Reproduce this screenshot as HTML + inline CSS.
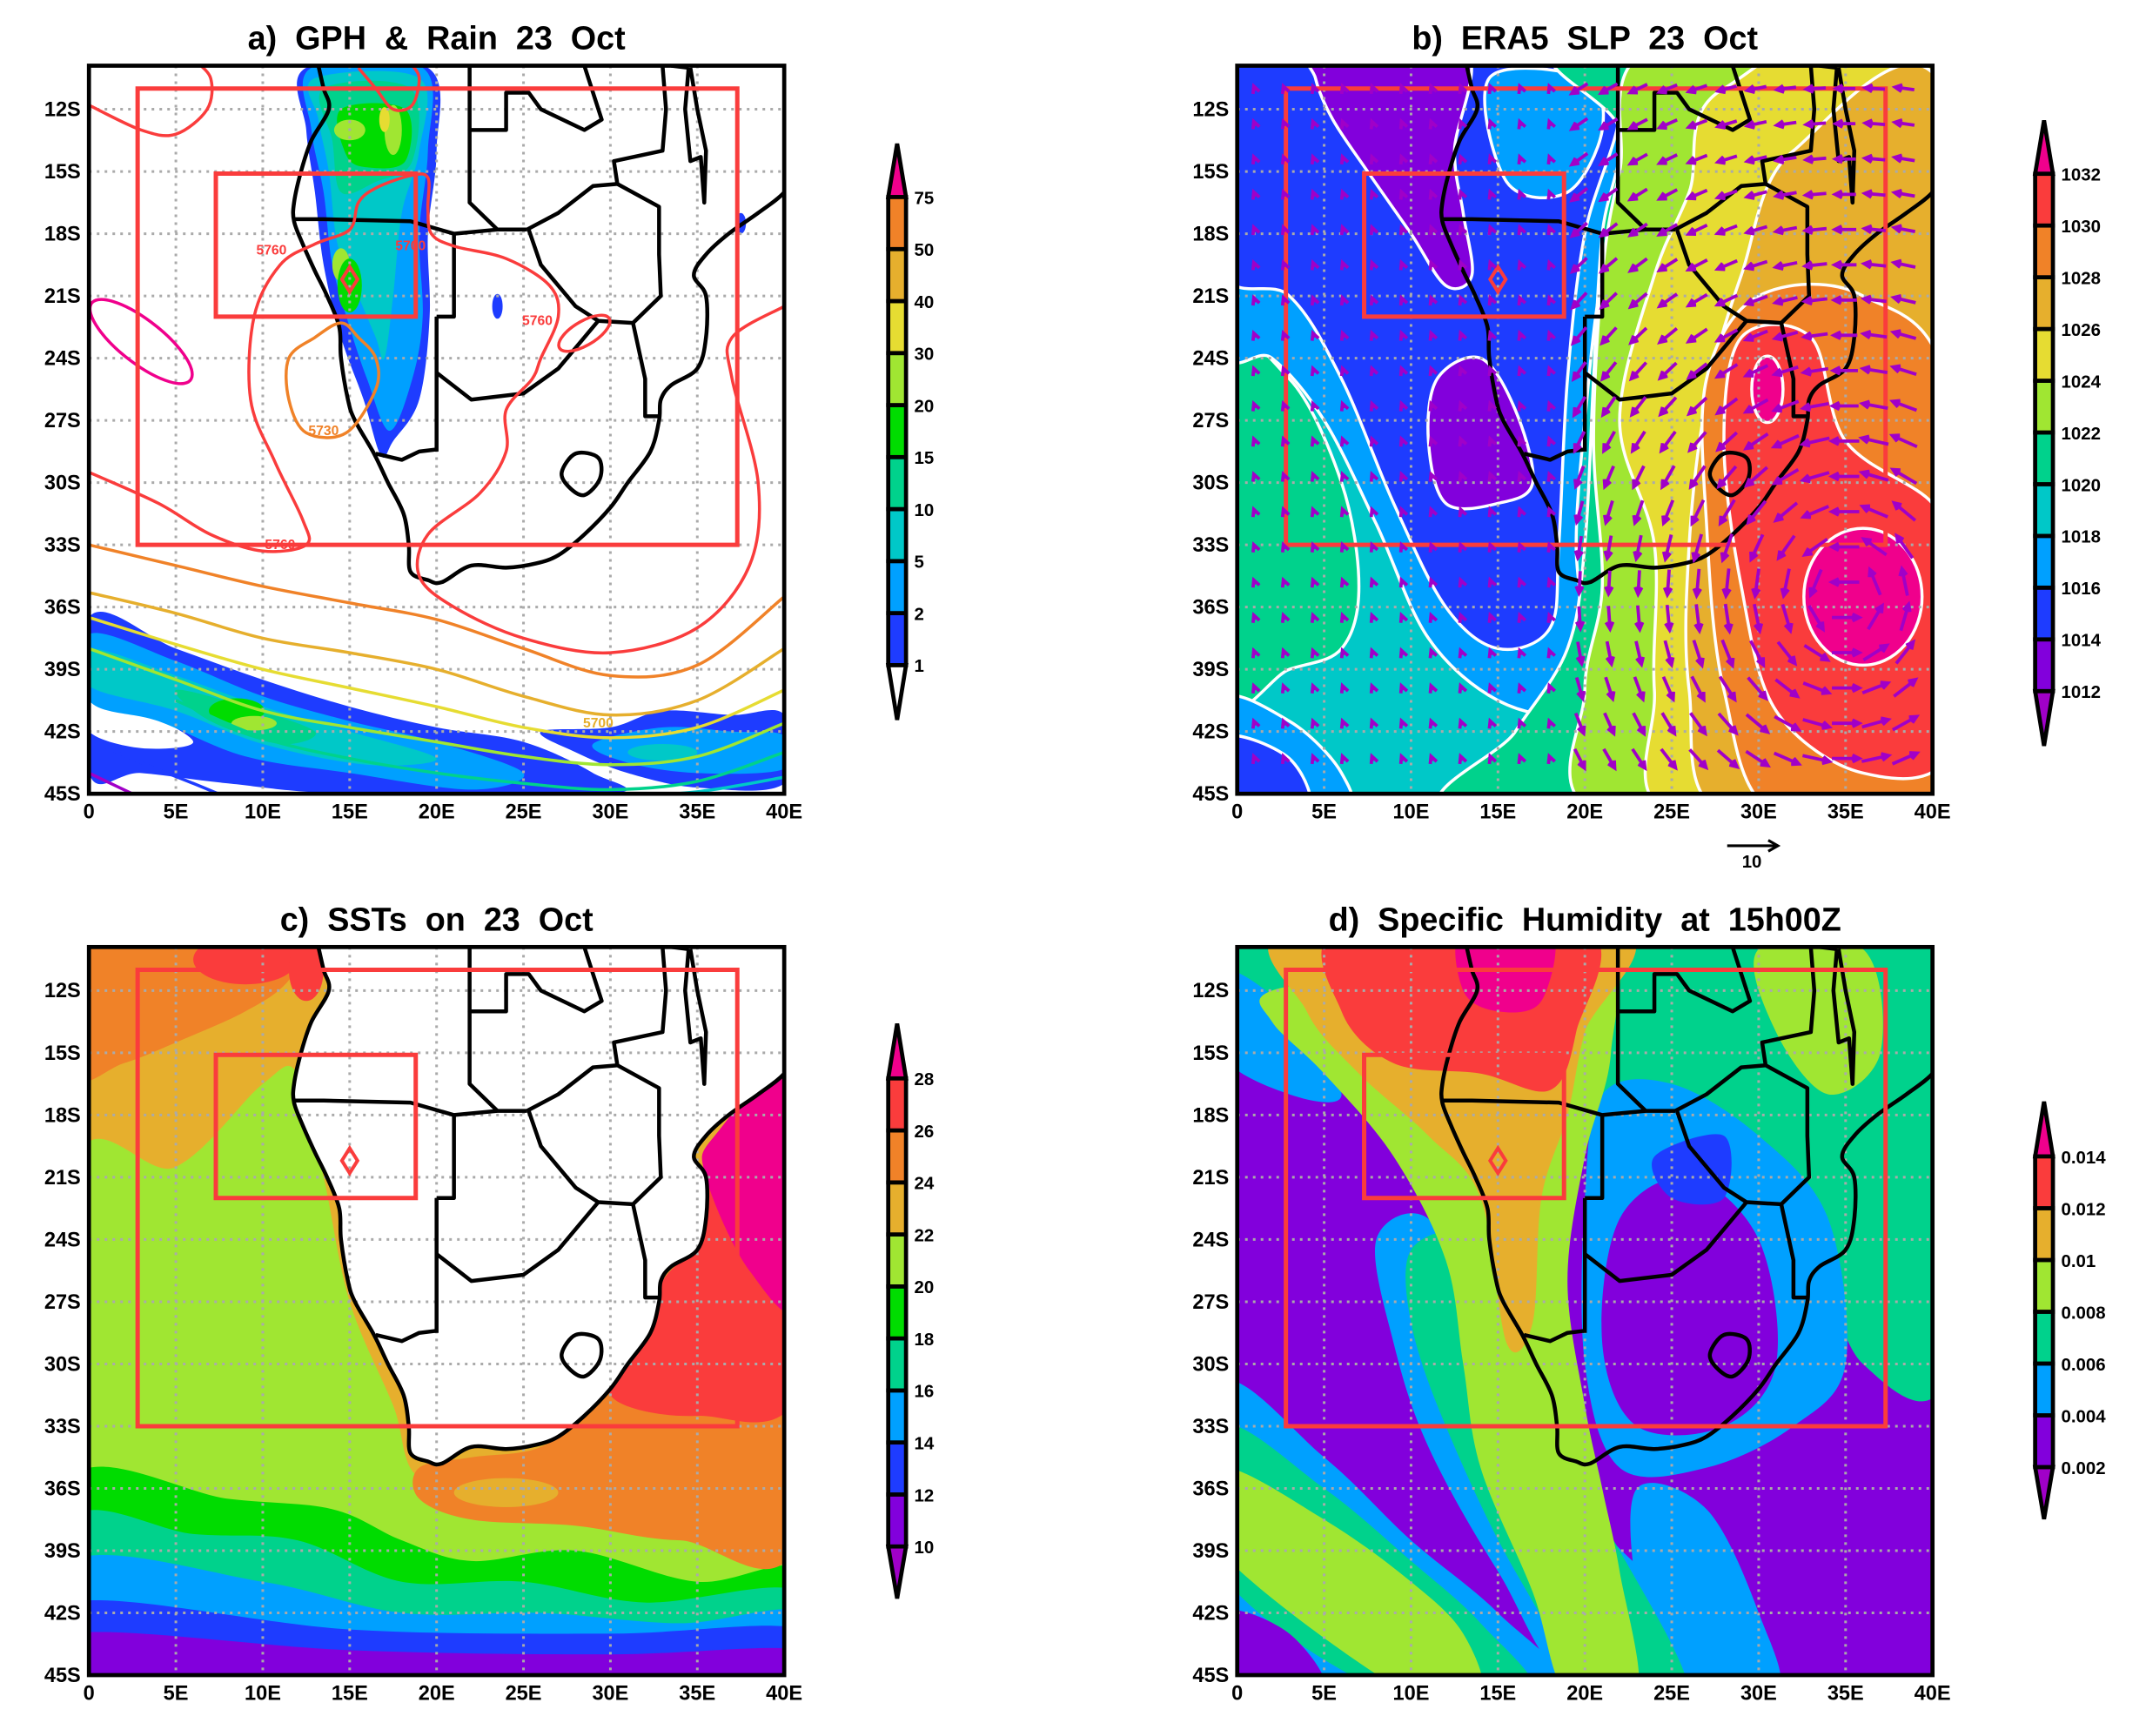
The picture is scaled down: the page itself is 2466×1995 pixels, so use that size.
<!DOCTYPE html>
<html><head><meta charset="utf-8">
<style>
html,body{margin:0;padding:0;background:#fff;}
svg{display:block;}
text{font-family:"Liberation Sans",sans-serif;font-weight:bold;}
</style></head>
<body>
<svg id="s" width="2466" height="1995" viewBox="0 0 1568 1268.5" preserveAspectRatio="none" xmlns="http://www.w3.org/2000/svg">
<rect width="1568" height="1268.5" fill="#fff"/>
</svg>
<script>
(function(){
var S=document.getElementById('s');
var KX=12.7, KY=15.157, T=9.9;
var P={a:[65,48],b:[904,48],c:[65,692],d:[904,692]};
var out=[];
function sp(p,closed){
  var n=p.length,d="M"+p[0][0]+","+p[0][1];
  for(var i=0;i<(closed?n:n-1);i++){
    var p0=p[(i-1+n)%n],p1=p[i],p2=p[(i+1)%n],p3=p[(i+2)%n];
    if(!closed){ if(i==0)p0=p1; if(i+2>=n)p3=p2; }
    var c1=[p1[0]+(p2[0]-p0[0])/6,p1[1]+(p2[1]-p0[1])/6];
    var c2=[p2[0]-(p3[0]-p1[0])/6,p2[1]-(p3[1]-p1[1])/6];
    d+="C"+c1[0].toFixed(3)+","+c1[1].toFixed(3)+" "+c2[0].toFixed(3)+","+c2[1].toFixed(3)+" "+p2[0]+","+p2[1];
  }
  return d+(closed?"Z":"");
}
function fill(p,c,st){return '<path d="'+sp(p,true)+'" fill="'+c+'"'+(st?' stroke="'+st+'" stroke-width="3.5" vector-effect="non-scaling-stroke"':'')+'/>';}
function line(p,c,w){return '<path d="'+sp(p,false)+'" fill="none" stroke="'+c+'" stroke-width="'+(w||3.5)+'" vector-effect="non-scaling-stroke"/>';}
function pl(p,c,w){return '<polyline points="'+p.map(function(q){return q.join(',')}).join(' ')+'" fill="none" stroke="'+c+'" stroke-width="'+(w||4.5)+'" stroke-linejoin="round" vector-effect="non-scaling-stroke"/>';}
function ell(cx,cy,rx,ry,c,st){return '<ellipse cx="'+cx+'" cy="'+cy+'" rx="'+rx+'" ry="'+ry+'" fill="'+c+'"'+(st?' stroke="'+st+'" stroke-width="3.5" vector-effect="non-scaling-stroke"':'')+'/>';}
function grp(k,inner){var o=P[k];return '<g clip-path="url(#cl)" transform="translate('+o[0]+','+o[1]+') scale('+KX+','+KY+') translate(0,'+(-T)+')">'+inner+'</g>';}
function pt(k,lon,lat){var o=P[k];return [o[0]+lon*KX,o[1]+(lat-T)*KY];}

var coast=[[13.2,9.9],[13.5,11],[13.8,12],[12.8,13.5],[12.2,15],[11.8,16.5],[11.8,17.4],[12.3,18.5],[13,19.8],[13.7,21],[14.4,22.5],[14.5,24],[14.9,26],[15.3,27],[16.4,28.6],[17.2,30],[18.1,31.5],[18.4,33],[18.5,34.3],[19.5,34.7],[20.3,34.8],[22,34],[24,34.1],[25.7,33.9],[27,33.5],[28.5,32.5],[30,31.2],[31,30],[32.3,28.5],[32.8,27],[32.9,26],[33.5,25.3],[35,24.5],[35.5,23],[35.5,21],[34.8,20],[35.5,19],[36.8,18],[38.5,17],[40,16],[40.5,15],[40.6,12],[40.2,10.5],[40.5,9.9]];
var landPoly='<polygon points="'+coast.map(function(q){return q.join(',')}).join(' ')+' 40.5,9.5 13,9.5" fill="#fff"/>';
var borders=[
 [[11.8,17.3],[13.5,17.3],[18.5,17.4],[21,18],[23.5,17.8],[25.2,17.8]],
 [[21,18],[21,22],[20,22]],
 [[20,22],[20,28.5]],
 [[16.5,28.6],[18,28.9],[19,28.5],[20,28.4]],
 [[21.9,9.9],[21.9,13],[24,13],[24,11.2],[25.3,11.2],[26,12],[28.5,13],[29.5,12.5],[28.5,9.9]],
 [[21.9,13],[21.9,16.5],[23.5,17.8]],
 [[25.2,17.8],[27,17],[29,15.7],[30.4,15.6],[30.2,14.5],[33,14],[33.2,12],[33,9.9]],
 [[30.4,15.6],[32.8,16.7],[32.8,19],[32.9,21],[31.3,22.3],[32,25],[32,26.8],[32.9,26.8]],
 [[25.3,17.8],[26,19.5],[28,21.5],[29.3,22.2],[31.3,22.3]],
 [[20,24.7],[22,26],[25,25.7],[27,24.5],[29.3,22.2]],
 [[34.5,10],[34.3,12],[34.6,14.5],[35.2,14.3],[35.4,16.5],[35.5,14],[35,12],[34.6,10]],
 [[34.5,10],[33.5,9.9]]
];
var lesotho=[[27.2,29.5],[28,28.6],[29.3,28.8],[29.4,29.8],[28.5,30.6],[27.6,30.2]];
function landLines(){
  var s=line(coast,'#000',4.5);
  borders.forEach(function(b){s+=pl(b,'#000',4.5);});
  s+='<path d="'+sp(lesotho,true)+'" fill="none" stroke="#000" stroke-width="4.5" vector-effect="non-scaling-stroke"/>';
  return s;
}
function grid(){
  var s='';
  for(var lon=5;lon<40;lon+=5) s+='<line x1="'+lon+'" y1="9.9" x2="'+lon+'" y2="45" stroke="#aaa" stroke-width="3" stroke-dasharray="3,6" vector-effect="non-scaling-stroke"/>';
  for(var lat=12;lat<45;lat+=3) s+='<line x1="0" y1="'+lat+'" x2="40" y2="'+lat+'" stroke="#aaa" stroke-width="3" stroke-dasharray="3,6" vector-effect="non-scaling-stroke"/>';
  return s;
}
function boxes(){
  var s='<rect x="2.8" y="11" width="34.5" height="22" fill="none" stroke="#fa3c3c" stroke-width="5" vector-effect="non-scaling-stroke"/>';
  s+='<rect x="7.3" y="15.1" width="11.5" height="6.9" fill="none" stroke="#fa3c3c" stroke-width="5" vector-effect="non-scaling-stroke"/>';
  s+='<polygon points="15,19.6 15.45,20.2 15,20.8 14.55,20.2" fill="none" stroke="#fa3c3c" stroke-width="4" vector-effect="non-scaling-stroke"/>';
  return s;
}
function frameLabels(k){
  var o=P[k],s='<rect x="'+o[0]+'" y="'+o[1]+'" width="508" height="532" fill="none" stroke="#000" stroke-width="3"/>';
  var xl=['0','5E','10E','15E','20E','25E','30E','35E','40E'];
  for(var i=0;i<9;i++) s+='<text x="'+(o[0]+i*5*KX)+'" y="'+(o[1]+550)+'" font-size="15" text-anchor="middle">'+xl[i]+'</text>';
  for(var lat=12;lat<=45;lat+=3){var y=o[1]+(lat-T)*KY;s+='<text x="'+(o[0]-6)+'" y="'+(y+5)+'" font-size="15" text-anchor="end">'+lat+'S</text>';}
  return s;
}
function cbar(x,tip,top,bot,btip,cols,labs,tcol,bcol){
  var n=cols.length,h=(bot-top)/n,s='';
  s+='<polygon points="'+(x+6.5)+','+tip+' '+(x+13)+','+top+' '+x+','+top+'" fill="'+tcol+'" stroke="#000" stroke-width="3"/>';
  s+='<polygon points="'+(x+6.5)+','+btip+' '+(x+13)+','+bot+' '+x+','+bot+'" fill="'+bcol+'" stroke="#000" stroke-width="3"/>';
  for(var i=0;i<n;i++){s+='<rect x="'+x+'" y="'+(bot-(i+1)*h)+'" width="13" height="'+h+'" fill="'+cols[i]+'" stroke="#000" stroke-width="3"/>';}
  for(var j=0;j<labs.length;j++){s+='<text x="'+(x+19)+'" y="'+(bot-j*h+5)+'" font-size="13">'+labs[j]+'</text>';}
  return s;
}

out.push('<defs><clipPath id="cl" clipPathUnits="userSpaceOnUse"><rect x="0" y="9.9" width="40" height="35.1"/></clipPath><clipPath id="clb"><rect x="904" y="48" width="508" height="532"/></clipPath></defs>');

/* ---------- Panel a ---------- */
var a='';
a+=fill([[12.5,10],[19.5,10],[20,14],[19.5,18],[19.6,22],[19,26],[17.5,28],[16.8,28.7],[15.8,26],[14.5,23],[13.5,19.5],[13,16],[12.5,13]],'#1e3cff');
a+=fill([[12.8,10],[19.2,10],[19.5,14],[19,18],[19.2,22],[18.6,25],[17.3,27.5],[16,25],[15,22.5],[14,19.5],[13.5,16],[12.8,13]],'#00a0ff');
a+=fill([[13,10.5],[19,10.5],[19,14],[18,17],[17.5,21],[17,24],[16.5,23],[15.5,21],[14.3,18.5],[13.8,15],[13.2,12.5]],'#00c8c8');
a+=fill([[13.5,11],[18.5,11],[18.6,14.5],[16.5,15.5],[14.5,16],[14,13.5]],'#00d28c');
a+=fill([[14.5,12],[18.2,12],[18.2,14.5],[16,14.8],[14.8,14.2]],'#00dc00');
a+=ell(17.5,13,0.5,1.2,'#a0e632')+ell(15,13,0.9,0.5,'#a0e632')+ell(14.5,19.5,0.5,0.8,'#a0e632')+ell(17,12.5,0.3,0.6,'#e6dc32');
a+=ell(15,20.5,0.7,1.3,'#00dc00');
a+=fill([[0,36.5],[5,38],[10,39.5],[15,40.8],[20,41.8],[25,42.5],[29,44],[30,45],[15,45],[8,44.5],[3,44],[0,44]],'#1e3cff');
a+=fill([[0,40.3],[3,41],[6,42.5],[3,42.8],[0,42]],'#fff');
a+=fill([[0,37.3],[5,38.6],[10,40.3],[15,41.5],[20,42.5],[25,44],[22,44.8],[15,44],[9,43.2],[4,41.5],[0,40.5]],'#00a0ff');
a+=fill([[0,38],[5,39.3],[10,40.8],[15,42],[20,43.3],[16,43.6],[10,42.6],[5,41],[0,39.8]],'#00c8c8');
a+=fill([[5,40],[9,40.8],[13,42],[11,42.6],[7,41.5]],'#00d28c');
a+=ell(8.5,41,1.6,0.6,'#00dc00')+ell(9.5,41.6,1.3,0.35,'#a0e632');
a+=fill([[26,42],[30,41.8],[33,41],[37,41.2],[40,41.2],[40,44.5],[35,44.7],[31,44],[28,43]],'#1e3cff');
a+=fill([[29,42.6],[33,41.8],[37,42],[40,42.2],[40,43.8],[35,44],[31,43.5]],'#00a0ff');
a+=ell(33,43,2,0.4,'#00c8c8');
a+=ell(23.5,21.5,0.3,0.6,'#1e3cff')+ell(37.5,17.5,0.3,0.5,'#1e3cff');
a+=grid();
a+=landLines();
a+=line([[0,11.8],[3,13],[5,13.2],[6.8,12],[7,10.5],[6,9.6]],'#fa3c3c');
a+=line([[0,29.5],[4,31],[7,32.5],[10,33.3],[12.5,33],[12.3,31.8],[10.7,29],[9.3,26],[9.5,22],[11,19.5],[13,18.5],[15,17.8],[15.5,16.5],[16.5,15.8],[18.5,15.2],[19.5,15.3],[19.5,16.8],[19.7,18],[21,18.6],[24,19.2],[26.5,20.5],[27,22],[26,24],[25.5,25],[24,26.5],[24,28.5],[22.5,30.5],[19.5,32.5],[19,34.5],[21,36],[25,37.5],[30,38.2],[35,37],[38,34],[38.5,30],[37,25],[37,23],[40,21.5]],'#fa3c3c');
a+=line([[15.5,10],[16.5,11],[17.5,12],[18.6,11.8],[19,10.5],[18.5,9.8]],'#fa3c3c');
a+=fill([[14.5,22.3],[13,23],[11.5,24],[11.5,26],[12.5,27.6],[14.8,27.6],[16.5,25.5],[16.5,24],[15.5,23]],'none','#f08228');
a+='<ellipse cx="3" cy="23.2" rx="3.4" ry="1.1" transform="rotate(32 3 23.2)" fill="none" stroke="#f0008c" stroke-width="3.5" vector-effect="non-scaling-stroke"/>';
a+='<ellipse cx="28.5" cy="22.8" rx="1.6" ry="0.6" transform="rotate(-25 28.5 22.8)" fill="none" stroke="#fa3c3c" stroke-width="3.5" vector-effect="non-scaling-stroke"/>';
a+=line([[0,33],[5,34],[10,35],[15,35.8],[20,36.6],[25,38],[30,39.3],[35,38.8],[40,35.5]],'#f08228');
a+=line([[0,35.3],[5,36.3],[10,37.5],[15,38.2],[20,39],[25,40.3],[30,41.2],[35,40.5],[40,38]],'#e6af2d');
a+=line([[0,36.5],[5,37.8],[10,39],[15,39.9],[20,40.8],[25,41.8],[30,42.3],[35,41.8],[40,40]],'#e6dc32');
a+=line([[0,38],[5,39.5],[10,41],[15,41.8],[20,42.5],[25,43.2],[30,43.6],[35,43.2],[40,41.6]],'#a0e632');
a+=line([[5,40.5],[10,42.3],[15,43.3],[20,44],[25,44.5],[30,44.8],[35,44.4],[40,43]],'#00d28c');
a+=line([[20,45.2],[30,45.1],[35,44.9],[40,44.2]],'#00c8c8');
a+=line([[0,42.4],[3,43.5],[6,44.5],[8,45.2]],'#1e3cff');
a+=line([[0,44],[3,45.2]],'#a000c8');
a+=boxes();
out.push(grp('a',a));
function clab(k,lon,lat,t,c){var q=pt(k,lon,lat);return '<text x="'+q[0]+'" y="'+q[1]+'" font-size="10" fill="'+c+'" text-anchor="middle">'+t+'</text>';}
out.push(clab('a',10.5,19,'5760','#fa3c3c')+clab('a',18.5,18.8,'5700','#fa3c3c')+clab('a',25.8,22.4,'5760','#fa3c3c')+clab('a',13.5,27.7,'5730','#f08228')+clab('a',11,33.2,'5760','#fa3c3c')+clab('a',29.3,41.8,'5700','#e6af2d'));
out.push(frameLabels('a'));
out.push('<text x="319" y="36" font-size="24" text-anchor="middle" xml:space="preserve">a)  GPH  &amp;  Rain  23  Oct</text>');
out.push(cbar(649,105,144,486,526,['#1e3cff','#00a0ff','#00c8c8','#00d28c','#00dc00','#a0e632','#e6dc32','#e6af2d','#f08228'],['1','2','5','10','15','20','30','40','50','75'],'#f0008c','#fff'));

/* ---------- Panel b ---------- */
var W='#fff';
var b='<rect x="0" y="9.9" width="40" height="35.1" fill="#00c8c8"/>';
b+=fill([[-1,24],[3,25],[6,30],[7,35],[6,38],[3,39],[-1,40]],'#00d28c',W);
b+=fill([[-1,40.5],[3,41.5],[6,44],[6,46],[-1,46]],'#00a0ff',W);
b+=fill([[-1,42.3],[3,43.3],[4,46],[-1,46]],'#1e3cff',W);
b+=fill([[-1,9],[20,9],[23,14],[21,20],[20,27],[19.5,33],[20,38],[19,41],[15,40.5],[11,37.5],[8,32],[5,27],[2,24],[-1,23]],'#00a0ff',W);
b+=fill([[-1,9],[20,9],[22,12],[20,18],[19,25],[18.5,33],[18,37],[15,38],[12,36],[9,31],[6,25],[3,21],[-1,19.5]],'#1e3cff',W);
b+='<rect x="-1" y="9" width="5" height="10" fill="#1e3cff"/>';
b+=fill([[4.5,9],[13,9],[12.5,14],[13,17],[13.5,20],[12,20.5],[10,18],[7.5,15],[5.5,12.5],[4.5,10.5]],'#8200dc',W);
b+=fill([[11.5,25],[14,24],[16,26.5],[17,30],[15,31],[12,31],[11,28]],'#8200dc',W);
b+=fill([[14.5,10.5],[20,10.5],[21,13],[19,16],[15.5,15.5]],'#00a0ff',W);
b+=fill([[19,9],[41,9],[41,46],[13,46],[16,42],[19,38],[20,33],[20.5,25],[21,18],[22,13]],'#00d28c',W);
b+=fill([[24,9],[41,9],[41,46],[21,46],[20,40],[21,35],[20.5,28],[21,20],[22,15]],'#a0e632',W);
b+=fill([[28,11],[41,9],[41,46],[25,46],[24,40],[24,33],[22,27],[24,20],[26,16]],'#e6dc32',W);
b+=fill([[32,14],[41,12],[41,46],[28,46],[26,40],[26,33],[27,26],[29,20]],'#e6af2d',W);
b+=fill([[30,21],[36,21],[41,26],[41,46],[31,46],[28,40],[27,32],[27,25]],'#f08228',W);
b+=fill([[29,23],[33,23],[35,28],[40,31],[41,34],[41,43],[36,44],[31,41],[29,35],[28,28]],'#fa3c3c',W);
b+=ell(36,35.5,3.4,3.3,'#f0008c',W)+ell(30.5,25.5,0.9,1.6,'#f0008c',W);
b+=grid();
b+=landLines();
b+=boxes();
out.push(grp('b',b));
var ar='';
for(var la=11;la<=44.5;la+=1.7){for(var lo=1;lo<=39.5;lo+=1.7){
  var dx=lo-35,dy=-(la-35.5),r=Math.sqrt(dx*dx+dy*dy)+0.01;
  var u=-dy/r,v=dx/r,m;
  if(lo<19){m=0.35;u=-0.3;v=0.8;}
  else {m=Math.min(1,0.5+6/(r+4));}
  var L=Math.sqrt(u*u+v*v);u/=L;v/=L;
  var len=(lo<19?10:20)*m;
  var p0=pt('b',lo,la),x1=p0[0]-u*len/2,y1=p0[1]+v*len/2,x2=p0[0]+u*len/2,y2=p0[1]-v*len/2;
  var hx=-u*5,hy=v*5;
  ar+='<line x1="'+x1.toFixed(1)+'" y1="'+y1.toFixed(1)+'" x2="'+x2.toFixed(1)+'" y2="'+y2.toFixed(1)+'"/>';
  ar+='<polyline fill="none" points="'+(x2+hx-hy*0.5).toFixed(1)+','+(y2+hy+hx*0.5).toFixed(1)+' '+x2.toFixed(1)+','+y2.toFixed(1)+' '+(x2+hx+hy*0.5).toFixed(1)+','+(y2+hy-hx*0.5).toFixed(1)+'"/>';
}}
out.push('<g stroke="#a000c8" stroke-width="2.4" clip-path="url(#clb)">'+ar+'</g>');
out.push('<line x1="1262" y1="618" x2="1298" y2="618" stroke="#000" stroke-width="2"/><polyline points="1292,614 1299,618 1292,622" fill="none" stroke="#000" stroke-width="2"/><text x="1280" y="634" font-size="13" text-anchor="middle">10</text>');
out.push(frameLabels('b'));
out.push('<text x="1158" y="36" font-size="24" text-anchor="middle" xml:space="preserve">b)  ERA5  SLP  23  Oct</text>');
out.push(cbar(1487,88,127,505,545,['#8200dc','#1e3cff','#00a0ff','#00c8c8','#00d28c','#a0e632','#e6dc32','#e6af2d','#f08228','#fa3c3c'],['1012','1014','1016','1018','1020','1022','1024','1026','1028','1030','1032'],'#f0008c','#a000c8'));

/* ---------- Panel c ---------- */
var c='<rect x="0" y="9.9" width="40" height="35.1" fill="#e6af2d"/>';
c+=fill([[-1,9],[13,9],[11.5,11.5],[9,13],[5,14.5],[2,15.5],[-1,16]],'#f08228');
c+=ell(9,10.5,3,1.2,'#fa3c3c')+ell(12.5,11,1,1.5,'#fa3c3c');
c+=fill([[-1,21],[5,20.5],[10,16.5],[12,16],[13.5,21],[15,27],[17.5,32],[19,35.5],[24,36],[30,37.5],[35,38.5],[41,38],[41,46],[-1,46]],'#a0e632');
c+=fill([[-1,35.5],[8,36.5],[14,37],[18,38.5],[22,39.5],[28,39],[35,40.5],[41,40],[41,46],[-1,46]],'#00dc00');
c+=fill([[-1,37.5],[6,38.2],[12,38.5],[18,40.5],[25,40.5],[32,41.5],[41,41],[41,46],[-1,46]],'#00d28c');
c+=fill([[-1,39.5],[10,40.5],[18,42],[26,42],[34,42.5],[41,42],[41,46],[-1,46]],'#00a0ff');
c+=fill([[-1,41.5],[15,42.8],[30,43],[41,42.8],[41,46],[-1,46]],'#1e3cff');
c+=fill([[-1,43],[15,43.8],[30,44],[41,43.8],[41,46],[-1,46]],'#8200dc');
c+=fill([[19,35],[22,34.5],[26,34],[29,32],[32,28.5],[33,26],[35,24],[36,20],[41,15],[41,38],[34,38.5],[28,37.8],[22,37.5],[19,36.5]],'#f08228');
c+=fill([[30,31.5],[32,28.5],[33,26],[35,24],[36,20],[41,15],[41,31],[35,32.5]],'#fa3c3c');
c+=fill([[35.5,21],[36,19],[41,15.5],[41,27],[38,25.5]],'#f0008c');
c+=ell(24,36.2,3,0.7,'#e6af2d');
c+=landPoly;
c+=grid();
c+=landLines();
c+=boxes();
out.push(grp('c',c));
out.push(frameLabels('c'));
out.push('<text x="319" y="680" font-size="24" text-anchor="middle" xml:space="preserve">c)  SSTs  on  23  Oct</text>');
out.push(cbar(649,748,788,1130,1168,['#8200dc','#1e3cff','#00a0ff','#00d28c','#00dc00','#a0e632','#e6af2d','#f08228','#fa3c3c'],['10','12','14','16','18','20','22','24','26','28'],'#f0008c','#a000c8'));

/* ---------- Panel d ---------- */
var d='<rect x="0" y="9.9" width="40" height="35.1" fill="#8200dc"/>';
d+=fill([[20,9],[41,9],[41,30],[36,30],[33,24],[30,21],[25,18],[21,17]],'#00d28c');
d+=fill([[30,10],[36,10],[37,15],[34,17],[31,14]],'#a0e632');
d+=fill([[21,17],[25,16.5],[30,19],[34,23],[35,30],[32,33],[27,35],[22,35],[20,30],[20,22]],'#00a0ff');
d+=fill([[22,23],[26,21],[30,24],[31,30],[28,33],[23,33],[21,29]],'#8200dc');
d+=fill([[24,20],[28,19],[28,22],[25,22]],'#1e3cff');
d+=fill([[23,36],[27,37],[30,42],[31,46],[25,46],[23,41]],'#00a0ff');
d+=fill([[-1,31],[5,34.5],[10,38.5],[15,42],[19,46],[8,46],[-1,41]],'#00a0ff');
d+=fill([[-1,33],[5,36],[10,39.5],[14,42.5],[17,46],[9,46],[-1,40]],'#00d28c');
d+=fill([[-1,35],[5,37.5],[10,40.5],[13,43],[14,46],[10,46],[-1,39]],'#a0e632');
d+=fill([[-1,42],[3,43],[5,46],[-1,46]],'#8200dc');
d+=fill([[8,24],[11,23],[14,28],[17,33],[21,38],[26,42],[30,46],[20,46],[15,40],[11,34],[9,29]],'#00a0ff');
d+=fill([[10,24.5],[13,24],[15,29],[18,34],[22,39],[26,46],[21,46],[16,40],[12,33],[10,28]],'#00d28c');
d+=fill([[-1,9],[5,9],[5,12],[3,15],[-1,15]],'#00d28c');
d+=fill([[-1,11],[3,13],[6,17],[3,17],[-1,15]],'#00a0ff');
d+=fill([[2,12],[10,11],[21,9],[21.5,15],[20,20],[19,26],[20,32],[21,36],[22,40],[23,46],[19,46],[17,41],[14,35],[13,30],[12,25],[9,20],[5,16],[2,13.5]],'#a0e632');
d+=fill([[3,9],[22,9],[20,14],[19,18],[17.5,22],[17,28],[15.5,29],[14,22],[11,19],[7,16],[4,13]],'#e6af2d');
d+=fill([[6,9],[20,9],[19.5,14],[18,16.8],[14,16],[9,15.5],[6,13]],'#fa3c3c');
d+=fill([[13,9],[18,9],[17.5,12.5],[15,13],[13,12]],'#f0008c');
d+=grid();
d+=landLines();
d+=boxes();
out.push(grp('d',d));
out.push(frameLabels('d'));
out.push('<text x="1158" y="680" font-size="24" text-anchor="middle" xml:space="preserve">d)  Specific  Humidity  at  15h00Z</text>');
out.push(cbar(1487,805,845,1072,1110,['#8200dc','#00a0ff','#00d28c','#a0e632','#e6af2d','#fa3c3c'],['0.002','0.004','0.006','0.008','0.01','0.012','0.014'],'#f0008c','#a000c8'));

S.insertAdjacentHTML('beforeend',out.join(''));
})();
</script>
</body></html>
